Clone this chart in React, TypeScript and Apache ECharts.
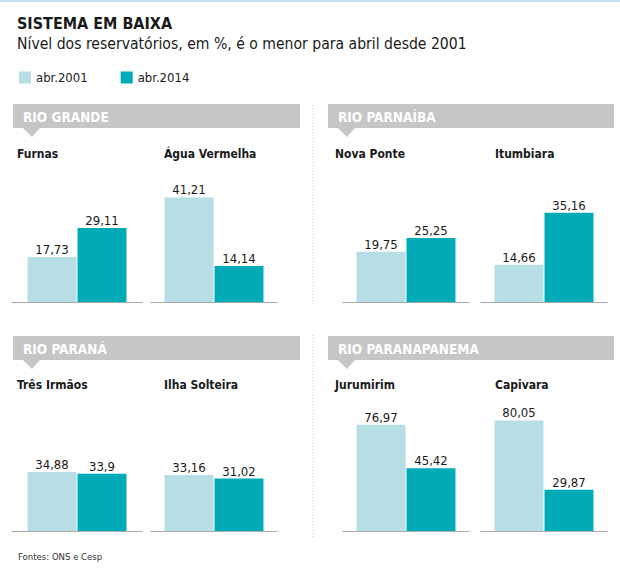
import React, { useEffect, useRef } from 'react';
import * as echarts from 'echarts';

const panelNames = ['RIO GRANDE', 'RIO PARNAÍBA', 'RIO PARANÁ', 'RIO PARANAPANEMA'];
const reservoirs = ['Furnas', 'Água Vermelha', 'Nova Ponte', 'Itumbiara', 'Três Irmãos', 'Ilha Solteira', 'Jurumirim', 'Capivara'];
const abr2001 = [17.73, 41.21, 19.75, 14.66, 34.88, 33.16, 76.97, 80.05];
const abr2014 = [29.11, 14.14, 25.25, 35.16, 33.9, 31.02, 45.42, 29.87];
const seriesNames = ['abr.2001', 'abr.2014'];

const FONT = "'Liberation Sans Narrow', 'DejaVu Sans Condensed', 'Open Sans', sans-serif";
const LIGHT = '#b6dee4';
const DARK = '#00abb8';
const GRAY = '#c6c6c6';

// layout (positions only)
const gridLeft = [12, 151, 343, 481];
const gridWidth = [130, 126, 126, 126];
const rowTop = [170, 399];
const rowH = 132;
const panelMax = [52, 52, 78, 95.6];
const nameX = [17, 164, 335, 495];
const nameTop = [148, 379];
const bannerX = [13, 328];
const bannerW = [287, 286];
const bannerY = [104, 336];

export default function App() {
  const ref = useRef<HTMLDivElement>(null);
  useEffect(() => {
    document.body.style.margin = '0';
    const chart = echarts.init(ref.current!, null, { renderer: 'svg' });
    const grids: any[] = [];
    const xAxes: any[] = [];
    const yAxes: any[] = [];
    const series: any[] = [];
    const titles: any[] = [
      { text: 'SISTEMA EM BAIXA', left: 17, top: 15, padding: 0, textStyle: { fontFamily: FONT, fontSize: 16, fontWeight: 'bold', color: '#1a1a1a' } },
      { text: 'Nível dos reservatórios, em %, é o menor para abril desde 2001', left: 17, top: 36, padding: 0, textStyle: { fontFamily: FONT, fontSize: 15.6, fontWeight: 'normal', color: '#1a1a1a' } },
      { text: 'Fontes: ONS e Cesp', left: 18, top: 551, padding: 0, textStyle: { fontFamily: FONT, fontSize: 9.5, fontWeight: 'normal', color: '#333' } },
    ];
    const fmt = (p: any) => String(p.value).replace('.', ',');
    reservoirs.forEach((r, i) => {
      const col = i % 4;
      const row = Math.floor(i / 4);
      const panel = row * 2 + Math.floor(col / 2);
      grids.push({ left: gridLeft[col], width: gridWidth[col], top: rowTop[row], height: rowH });
      xAxes.push({
        type: 'category', gridIndex: i, data: [r],
        axisLine: { lineStyle: { color: '#aaa', width: 1 } },
        axisTick: { show: false }, axisLabel: { show: false },
      });
      yAxes.push({ type: 'value', gridIndex: i, min: 0, max: panelMax[panel], show: false, splitLine: { show: false } });
      [abr2001, abr2014].forEach((vals, s) => {
        series.push({
          type: 'bar', name: seriesNames[s], xAxisIndex: i, yAxisIndex: i,
          data: [vals[i]], barWidth: 49, barGap: '2%',
          itemStyle: { color: s === 0 ? LIGHT : DARK },
          label: { show: true, position: 'top', distance: 1, formatter: fmt, fontFamily: FONT, fontSize: 13, color: '#1a1a1a' },
        });
      });
      titles.push({ text: r, left: nameX[col], top: nameTop[row], padding: 0, textStyle: { fontFamily: FONT, fontSize: 12, fontWeight: 'bold', color: '#1a1a1a' } });
    });
    const graphic: any[] = [
      { type: 'rect', shape: { x: 0, y: 0, width: 620, height: 2 }, style: { fill: '#c3e4ef' } },
      { type: 'line', shape: { x1: 313, y1: 105, x2: 313, y2: 305 }, style: { stroke: '#c8c8c8', lineWidth: 1, lineDash: [1, 2] } },
      { type: 'line', shape: { x1: 313, y1: 335, x2: 313, y2: 539 }, style: { stroke: '#c8c8c8', lineWidth: 1, lineDash: [1, 2] } },
    ];
    panelNames.forEach((p, k) => {
      const c = k % 2;
      const rw = Math.floor(k / 2);
      const x = bannerX[c];
      const y = bannerY[rw];
      graphic.push({ type: 'rect', shape: { x, y, width: bannerW[c], height: 24 }, style: { fill: GRAY } });
      graphic.push({ type: 'polygon', shape: { points: [[x + 10, y + 24], [x + 27, y + 24], [x + 19, y + 33]] }, style: { fill: GRAY } });
      graphic.push({ type: 'text', x: x + 10, y: y + 12.5, style: { text: p, fill: '#fff', font: `bold 13.5px ${FONT}`, textVerticalAlign: 'middle' } });
    });
    chart.setOption({
      animation: false,
      backgroundColor: '#fff',
      title: titles,
      legend: {
        data: seriesNames, left: 19, top: 71, padding: 0, icon: 'rect', itemWidth: 12, itemHeight: 12, itemGap: 33,
        textStyle: { fontFamily: FONT, fontSize: 13, color: '#222' },
      },
      grid: grids, xAxis: xAxes, yAxis: yAxes, series, graphic,
    });
    return () => chart.dispose();
  }, []);
  return <div ref={ref} style={{ width: 620, height: 575 }} />;
}
